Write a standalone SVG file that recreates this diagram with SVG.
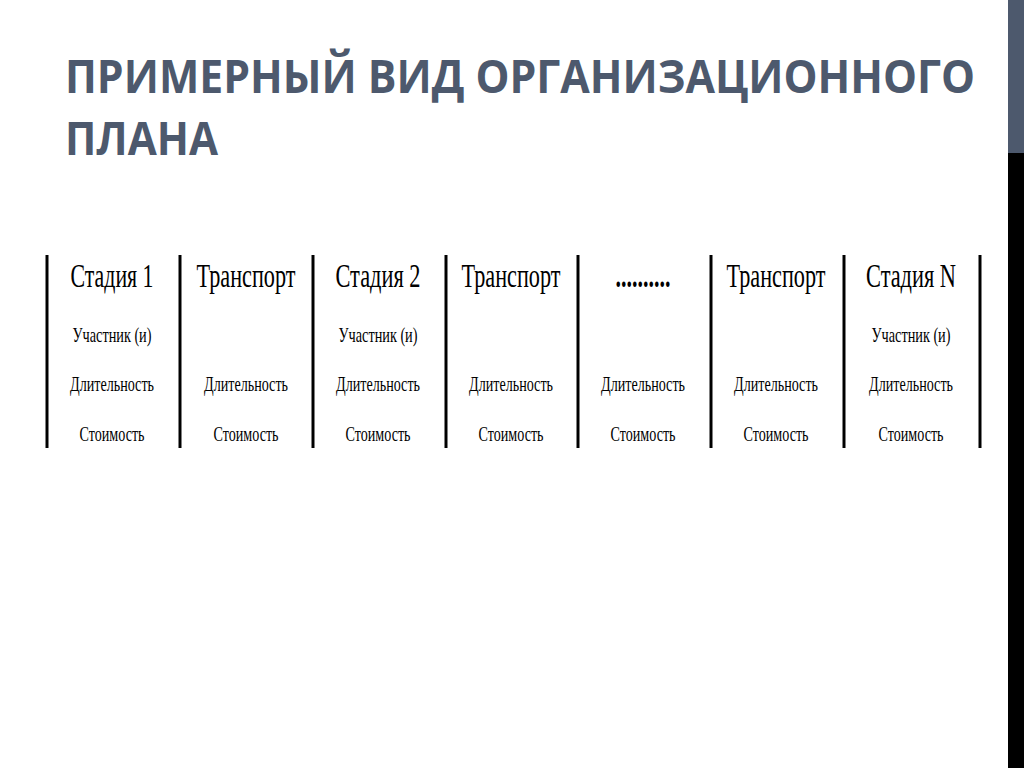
<svg xmlns="http://www.w3.org/2000/svg" width="1024" height="768" viewBox="0 0 1024 768">
<style>
.title{font-family:"Open Sans","Noto Sans",sans-serif;font-weight:700;font-size:46px;fill:#4d596d}
.hd{font-family:"Liberation Serif","DejaVu Serif",serif;font-size:34px;fill:#000;text-anchor:middle}
.it{font-family:"Liberation Serif","DejaVu Serif",serif;font-size:21px;fill:#000;text-anchor:middle}
.sep{stroke:#000;stroke-width:3}
</style>
<rect x="0" y="0" width="1024" height="768" fill="#fff"/>
<rect x="1008" y="0" width="16" height="153" fill="#4d596d"/>
<rect x="1008" y="153" width="16" height="615" fill="#000"/>
<g id="title">
<text class="title" x="65" y="93" textLength="910" lengthAdjust="spacingAndGlyphs">ПРИМЕРНЫЙ ВИД ОРГАНИЗАЦИОННОГО</text>
<text class="title" x="65" y="155" textLength="153" lengthAdjust="spacingAndGlyphs">ПЛАНА</text>
</g>
<g id="separators">
<line class="sep" x1="47" y1="255" x2="47" y2="448"/>
<line class="sep" x1="180" y1="255" x2="180" y2="448"/>
<line class="sep" x1="313" y1="255" x2="313" y2="448"/>
<line class="sep" x1="446" y1="255" x2="446" y2="448"/>
<line class="sep" x1="578" y1="255" x2="578" y2="448"/>
<line class="sep" x1="711" y1="255" x2="711" y2="448"/>
<line class="sep" x1="844" y1="255" x2="844" y2="448"/>
<line class="sep" x1="980" y1="255" x2="980" y2="448"/>
</g>
<g id="col1">
<text class="hd" x="112" y="287" textLength="83" lengthAdjust="spacingAndGlyphs">Стадия 1</text>
<text class="it" x="112" y="342" textLength="79" lengthAdjust="spacingAndGlyphs">Участник (и)</text>
<text class="it" x="112" y="391" textLength="84" lengthAdjust="spacingAndGlyphs">Длительность</text>
<text class="it" x="112" y="441" textLength="65" lengthAdjust="spacingAndGlyphs">Стоимость</text>
</g>
<g id="col2">
<text class="hd" x="246" y="287" textLength="99" lengthAdjust="spacingAndGlyphs">Транспорт</text>
<text class="it" x="246" y="391" textLength="84" lengthAdjust="spacingAndGlyphs">Длительность</text>
<text class="it" x="246" y="441" textLength="65" lengthAdjust="spacingAndGlyphs">Стоимость</text>
</g>
<g id="col3">
<text class="hd" x="378" y="287" textLength="85" lengthAdjust="spacingAndGlyphs">Стадия 2</text>
<text class="it" x="378" y="342" textLength="79" lengthAdjust="spacingAndGlyphs">Участник (и)</text>
<text class="it" x="378" y="391" textLength="84" lengthAdjust="spacingAndGlyphs">Длительность</text>
<text class="it" x="378" y="441" textLength="65" lengthAdjust="spacingAndGlyphs">Стоимость</text>
</g>
<g id="col4">
<text class="hd" x="511" y="287" textLength="99" lengthAdjust="spacingAndGlyphs">Транспорт</text>
<text class="it" x="511" y="391" textLength="84" lengthAdjust="spacingAndGlyphs">Длительность</text>
<text class="it" x="511" y="441" textLength="65" lengthAdjust="spacingAndGlyphs">Стоимость</text>
</g>
<g id="col5">
<text class="hd" x="643" y="287" font-weight="700" textLength="55" lengthAdjust="spacingAndGlyphs">..........</text>
<text class="it" x="643" y="391" textLength="84" lengthAdjust="spacingAndGlyphs">Длительность</text>
<text class="it" x="643" y="441" textLength="65" lengthAdjust="spacingAndGlyphs">Стоимость</text>
</g>
<g id="col6">
<text class="hd" x="776" y="287" textLength="99" lengthAdjust="spacingAndGlyphs">Транспорт</text>
<text class="it" x="776" y="391" textLength="84" lengthAdjust="spacingAndGlyphs">Длительность</text>
<text class="it" x="776" y="441" textLength="65" lengthAdjust="spacingAndGlyphs">Стоимость</text>
</g>
<g id="col7">
<text class="hd" x="911" y="287" textLength="90" lengthAdjust="spacingAndGlyphs">Стадия N</text>
<text class="it" x="911" y="342" textLength="79" lengthAdjust="spacingAndGlyphs">Участник (и)</text>
<text class="it" x="911" y="391" textLength="84" lengthAdjust="spacingAndGlyphs">Длительность</text>
<text class="it" x="911" y="441" textLength="65" lengthAdjust="spacingAndGlyphs">Стоимость</text>
</g>
</svg>
